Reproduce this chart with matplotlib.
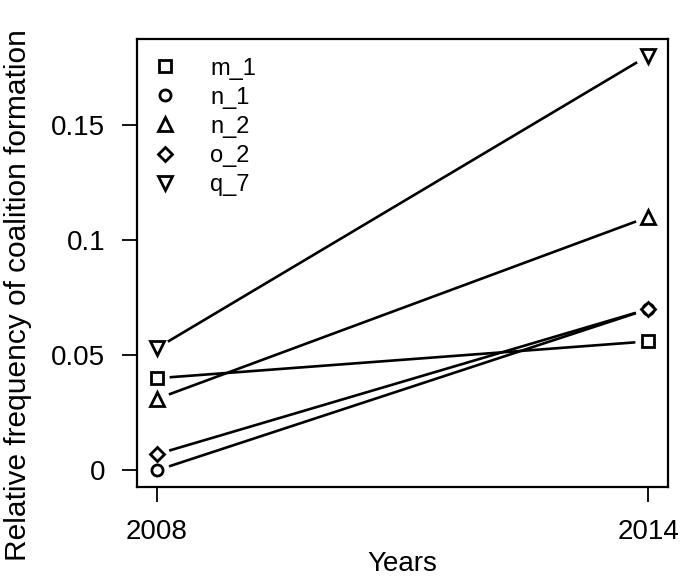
import numpy as np
import matplotlib
matplotlib.use("Agg")
import matplotlib.pyplot as plt

plt.rcParams['font.family'] = ['Liberation Sans', 'DejaVu Sans']

years = [2008, 2014]
series_names = ['m_1', 'n_1', 'n_2', 'o_2', 'q_7']
m_1 = [0.040, 0.056]
n_1 = [0.000, 0.070]
n_2 = [0.031, 0.110]
o_2 = [0.007, 0.070]
q_7 = [0.053, 0.180]
y_ticks = [0, 0.05, 0.1, 0.15]
y_tick_labels = ['0', '0.05', '0.1', '0.15']

series = [m_1, n_1, n_2, o_2, q_7]
markers = ['s', 'o', '^', 'D', 'v']
msizes = [8, 8, 10, 7.5, 10]


def gapped_segment(ax, xs, ys, gap_px=13):
    # R type="b": line stops short of each point
    pts = ax.transData.transform(np.column_stack([xs, ys]))
    out = []
    for a, b in zip(pts[:-1], pts[1:]):
        d = b - a
        u = d / np.hypot(*d)
        out.append((a + u * gap_px, b - u * gap_px))
    inv = ax.transData.inverted()
    return [inv.transform(np.array(seg)) for seg in out]


fig = plt.figure(figsize=(6.84, 5.82), dpi=100)
ax = fig.add_axes([0.2003, 0.1632, 0.7763, 0.7698])

xr = years[1] - years[0]
ymax = max(max(s) for s in series)
ax.set_xlim(years[0] - 0.04 * xr, years[1] + 0.04 * xr)
ax.set_ylim(-0.04 * ymax, ymax * 1.04)

for name, vals, mk, ms in zip(series_names, series, markers, msizes):
    for seg in gapped_segment(ax, years, vals):
        ax.plot(seg[:, 0], seg[:, 1], color='black', lw=1.9, solid_capstyle='butt')
    ax.plot(years, vals, linestyle='none', marker=mk, markersize=ms,
            markerfacecolor='white', markeredgecolor='black', markeredgewidth=2.0,
            label=name)

ax.set_xticks(years)
ax.set_xticklabels([str(y) for y in years])
ax.set_yticks(y_ticks)
ax.set_yticklabels(y_tick_labels)
ax.tick_params(axis='both', direction='out', length=11, width=1.3, labelsize=20)
ax.tick_params(axis='x', pad=12)
ax.tick_params(axis='y', pad=12)
for sp in ax.spines.values():
    sp.set_linewidth(1.6)

ax.set_xlabel('Years', fontsize=20, labelpad=4)
fig.text(18 / 684, 0.493, 'Relative frequency of coalition formation',
         fontsize=21.5, rotation=90, ha='center', va='center')

ax.legend(loc='upper left', bbox_to_anchor=(0.009, 0.985), frameon=False,
          fontsize=17, handlelength=1.0, handletextpad=1.4, labelspacing=0.3,
          borderpad=0, numpoints=1)

fig.savefig('out.png', dpi=100)
